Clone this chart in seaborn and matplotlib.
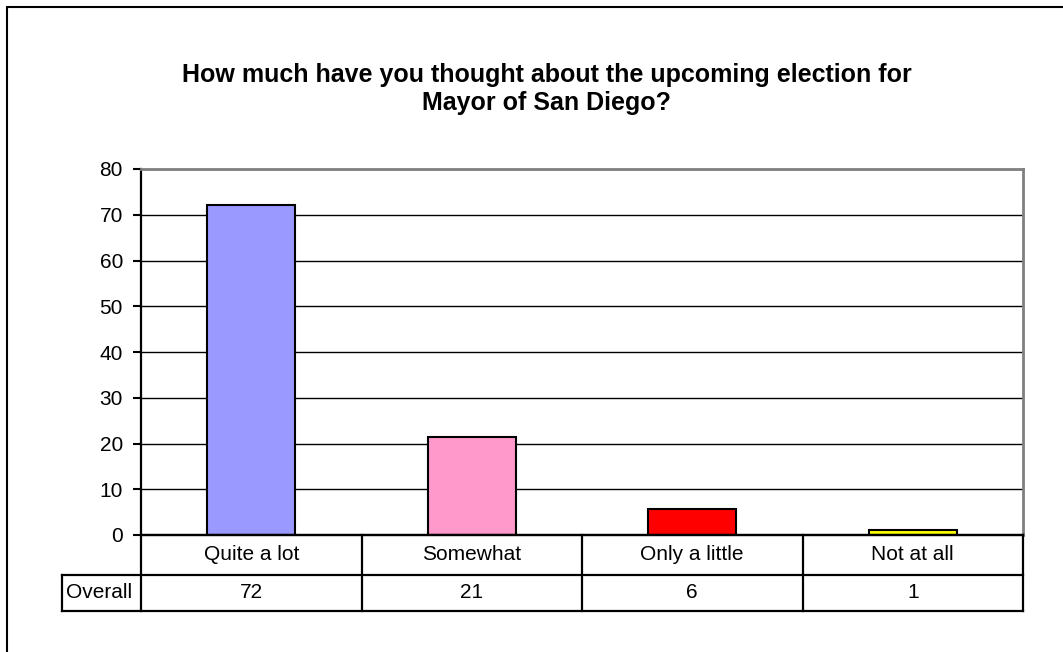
import matplotlib
matplotlib.use("Agg")
import matplotlib.pyplot as plt
from matplotlib.lines import Line2D
import seaborn as sns
import pandas as pd

# ---- data ----
categories = ["Quite a lot", "Somewhat", "Only a little", "Not at all"]
values = [72.1, 21.4, 5.6, 1.2]          # bar heights
table_labels = ["72", "21", "6", "1"]     # rounded values shown in the data table
row_label = "Overall"
bar_colors = ["#9999FF", "#FF99CC", "#FF0000", "#FFFF00"]
yticks = [0, 10, 20, 30, 40, 50, 60, 70, 80]
title = "How much have you thought about the upcoming election for\nMayor of San Diego?"

sns.set_style("white")
plt.rcParams["font.family"] = ["Liberation Sans", "DejaVu Sans"]
plt.rcParams["text.color"] = "black"

W, H = 1063, 652
fig = plt.figure(figsize=(W / 100, H / 100), dpi=100)
fig.patch.set_facecolor("white")


def px(l, t, r, b):
    return [l / W, 1 - b / H, (r - l) / W, (b - t) / H]


PL, PT, PR, PB = 141, 169, 1023, 535
ax = fig.add_axes(px(PL, PT, PR, PB))

df = pd.DataFrame({"cat": categories, "val": values})
sns.barplot(data=df, x="cat", y="val", hue="cat", order=categories,
            hue_order=categories, palette=bar_colors, width=0.4,
            edgecolor="black", linewidth=1.5, legend=False, ax=ax,
            saturation=1)

ax.set_xlim(-0.5, len(categories) - 0.5)
ax.set_ylim(yticks[0], yticks[-1])
ax.set_yticks(yticks)
ax.set_xticks([])
ax.set_xlabel("")
ax.set_ylabel("")
ax.yaxis.grid(True, color="black", linewidth=1)
ax.set_axisbelow(True)
ax.tick_params(axis="y", which="major", left=True, length=6, width=1.5,
               color="black", labelsize=15, pad=7, labelcolor="black")
for s in ("top", "right"):
    ax.spines[s].set_color("#808080")
    ax.spines[s].set_linewidth(2)
for s in ("left", "bottom"):
    ax.spines[s].set_color("black")
    ax.spines[s].set_linewidth(1.6)

# ---- data table below the plot ----
TL, TB = 62, 611
tax = fig.add_axes(px(TL, PB, PR, TB))
n = len(categories)
unit = (PR - PL) / n
xmin = -0.5 - (PL - TL) / unit
tax.set_xlim(xmin, n - 0.5)
tax.set_ylim(TB - PB, 0)
tax.axis("off")
r1 = 40
r2 = TB - PB
lw = 1.6
kw = dict(color="black", linewidth=lw, clip_on=False, solid_capstyle="projecting")
tax.plot([-0.5, n - 0.5], [0, 0], **kw)
tax.plot([xmin, n - 0.5], [r1, r1], **kw)
tax.plot([xmin, n - 0.5], [r2, r2], **kw)
tax.plot([xmin, xmin], [r1, r2], **kw)
for i in range(n + 1):
    tax.plot([i - 0.5, i - 0.5], [0, r2], **kw)
for i, (c, lab) in enumerate(zip(categories, table_labels)):
    tax.text(i, r1 / 2, c, ha="center", va="center", fontsize=15, color="black")
    tax.text(i, (r1 + r2) / 2, lab, ha="center", va="center", fontsize=15,
             color="black")
tax.text(xmin + 4 / unit, (r1 + r2) / 2, row_label, ha="left", va="center",
         fontsize=15, color="black")

# ---- title ----
fig.text(547 / W, 1 - 89 / H, title, ha="center", va="center",
         fontsize=18, fontweight="bold", linespacing=1.25, color="black")

# ---- outer chart frame (runs off the image to the right and bottom) ----
fig.add_artist(Line2D([7 / W, 7 / W], [0, 1 - 7 / H], color="black",
                      linewidth=1.5, transform=fig.transFigure))
fig.add_artist(Line2D([7 / W, 1], [1 - 7 / H, 1 - 7 / H], color="black",
                      linewidth=1.5, transform=fig.transFigure))

fig.savefig("out.png", dpi=100)
